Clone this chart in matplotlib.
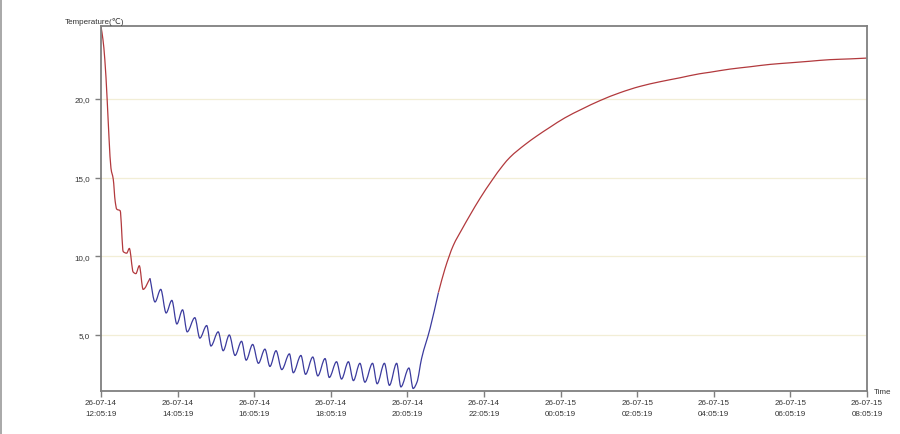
import matplotlib
matplotlib.use("Agg")
import matplotlib.pyplot as plt
from matplotlib.lines import Line2D
from matplotlib.path import Path
from matplotlib.patches import PathPatch

# hours since 26-07-14 12:05:19, temperature in degC
hours = [0.00, 0.05, 0.10, 0.16, 0.21, 0.26, 0.32, 0.37, 0.41, 0.50,
         0.58, 0.67, 0.74, 0.84, 0.91, 1.00, 1.10, 1.28, 1.41, 1.56,
         1.70, 1.85, 1.98, 2.13, 2.25, 2.45, 2.58, 2.76, 2.87, 3.06,
         3.19, 3.35, 3.50, 3.67, 3.79, 3.96, 4.11, 4.28, 4.41, 4.57,
         4.72, 4.92, 5.02, 5.22, 5.34, 5.53, 5.66, 5.85, 5.96, 6.15,
         6.28, 6.46, 6.59, 6.76, 6.89, 7.09, 7.21, 7.40, 7.53, 7.72,
         7.83, 8.04, 8.15, 8.25, 8.37, 8.59, 8.81, 8.98, 9.20, 9.42,
         9.63, 9.90, 10.20, 10.50, 10.68, 11.07, 11.38, 11.72, 12.11, 12.55,
         13.03, 13.55, 14.07, 14.60, 15.12, 15.62, 15.90, 16.42, 16.95, 17.47,
         17.99, 18.51, 19.03, 19.56, 19.99]
temps = [24.6, 23.8, 22.5, 20.0, 17.5, 15.6, 14.9, 13.5, 13.0, 12.9,
         10.3, 10.2, 10.5, 9.0, 8.9, 9.4, 7.9, 8.6, 7.1, 7.9,
         6.4, 7.2, 5.7, 6.6, 5.2, 6.1, 4.8, 5.6, 4.3, 5.2,
         4.0, 5.0, 3.7, 4.6, 3.4, 4.4, 3.2, 4.1, 3.0, 4.0,
         2.8, 3.8, 2.6, 3.7, 2.5, 3.6, 2.4, 3.5, 2.3, 3.3,
         2.2, 3.3, 2.1, 3.2, 2.0, 3.2, 1.9, 3.2, 1.8, 3.2,
         1.7, 2.9, 1.6, 2.0, 3.5, 5.4, 7.7, 9.2, 10.7, 11.7,
         12.6, 13.7, 14.8, 15.8, 16.3, 17.1, 17.65, 18.2, 18.8, 19.35,
         19.9, 20.4, 20.8, 21.1, 21.35, 21.6, 21.7, 21.9, 22.05, 22.2,
         22.3, 22.4, 22.5, 22.55, 22.6]

# stretch of the log drawn in blue
cold_start = 1.28
cold_end = 8.81

tick_hours = [0, 2, 4, 6, 8, 10, 12, 14, 16, 18, 20]
tick_labels = ["26-07-14\n12:05:19", "26-07-14\n14:05:19", "26-07-14\n16:05:19",
               "26-07-14\n18:05:19", "26-07-14\n20:05:19", "26-07-14\n22:05:19",
               "26-07-15\n00:05:19", "26-07-15\n02:05:19", "26-07-15\n04:05:19",
               "26-07-15\n06:05:19", "26-07-15\n08:05:19"]
y_ticks = [5, 10, 15, 20]
y_labels = ["5,0", "10,0", "15,0", "20,0"]


def smooth_path(xs, ys):
    # monotone cubic (Fritsch-Carlson) tangents -> bezier segments, so peaks stay rounded
    n = len(xs)
    d = [(ys[i + 1] - ys[i]) / (xs[i + 1] - xs[i]) for i in range(n - 1)]
    m = [0.0] * n
    m[0], m[-1] = d[0], d[-1]
    for i in range(1, n - 1):
        if d[i - 1] * d[i] <= 0:
            m[i] = 0.0
        else:
            w1 = 2 * (xs[i + 1] - xs[i]) + (xs[i] - xs[i - 1])
            w2 = (xs[i + 1] - xs[i]) + 2 * (xs[i] - xs[i - 1])
            m[i] = (w1 + w2) / (w1 / d[i - 1] + w2 / d[i])
    verts = [(xs[0], ys[0])]
    codes = [Path.MOVETO]
    for i in range(n - 1):
        h = (xs[i + 1] - xs[i]) / 3
        verts += [(xs[i] + h, ys[i] + m[i] * h),
                  (xs[i + 1] - h, ys[i + 1] - m[i + 1] * h),
                  (xs[i + 1], ys[i + 1])]
        codes += [Path.CURVE4] * 3
    return Path(verts, codes)


plt.rcParams['font.family'] = ['Liberation Sans', 'DejaVu Sans']

fig = plt.figure(figsize=(9, 4.35), dpi=100)
ax = fig.add_axes([101 / 900, 1 - 392 / 435, 766 / 900, 365 / 435])

red = "#b2393d"
blue = "#3b3b9e"

i0 = next(i for i, h in enumerate(hours) if h >= cold_start)
i1 = next(i for i, h in enumerate(hours) if h >= cold_end)
for a, b, c in [(0, i0, red), (i0, i1, blue), (i1, len(hours) - 1, red)]:
    p = smooth_path(hours[a:b + 1], temps[a:b + 1])
    ax.add_patch(PathPatch(p, fill=False, edgecolor=c, lw=0.9))

for y in y_ticks:
    ax.axhline(y, color="#f2eed6", lw=0.9, zorder=0)

ax.set_xlim(0, 20)
ax.set_ylim(1.44, 24.64)
ax.set_xticks(tick_hours)
ax.set_xticklabels(tick_labels, linespacing=1.7)
ax.set_yticks(y_ticks)
ax.set_yticklabels(y_labels)
ax.tick_params(axis='both', direction='out', length=4, width=1, color="#7f7f7f",
               labelsize=5.8, labelcolor="#333333")
ax.tick_params(axis='y', pad=4)
ax.tick_params(axis='x', pad=2)
for s in ax.spines.values():
    s.set_color("#7f7f7f")
    s.set_linewidth(1.3)

fig.text(65 / 900, 1 - 22 / 435, "Temperature(\u2103)", fontsize=5.8, va='center', ha='left', color="#333333")
fig.text(874 / 900, 1 - 393 / 435, "Time", fontsize=5.8, va='center', ha='left', color="#333333")

fig.add_artist(Line2D([0.0015, 0.0015], [0, 1], color="#9a9a9a", lw=1.2, transform=fig.transFigure))

fig.savefig("out.png", dpi=100)
